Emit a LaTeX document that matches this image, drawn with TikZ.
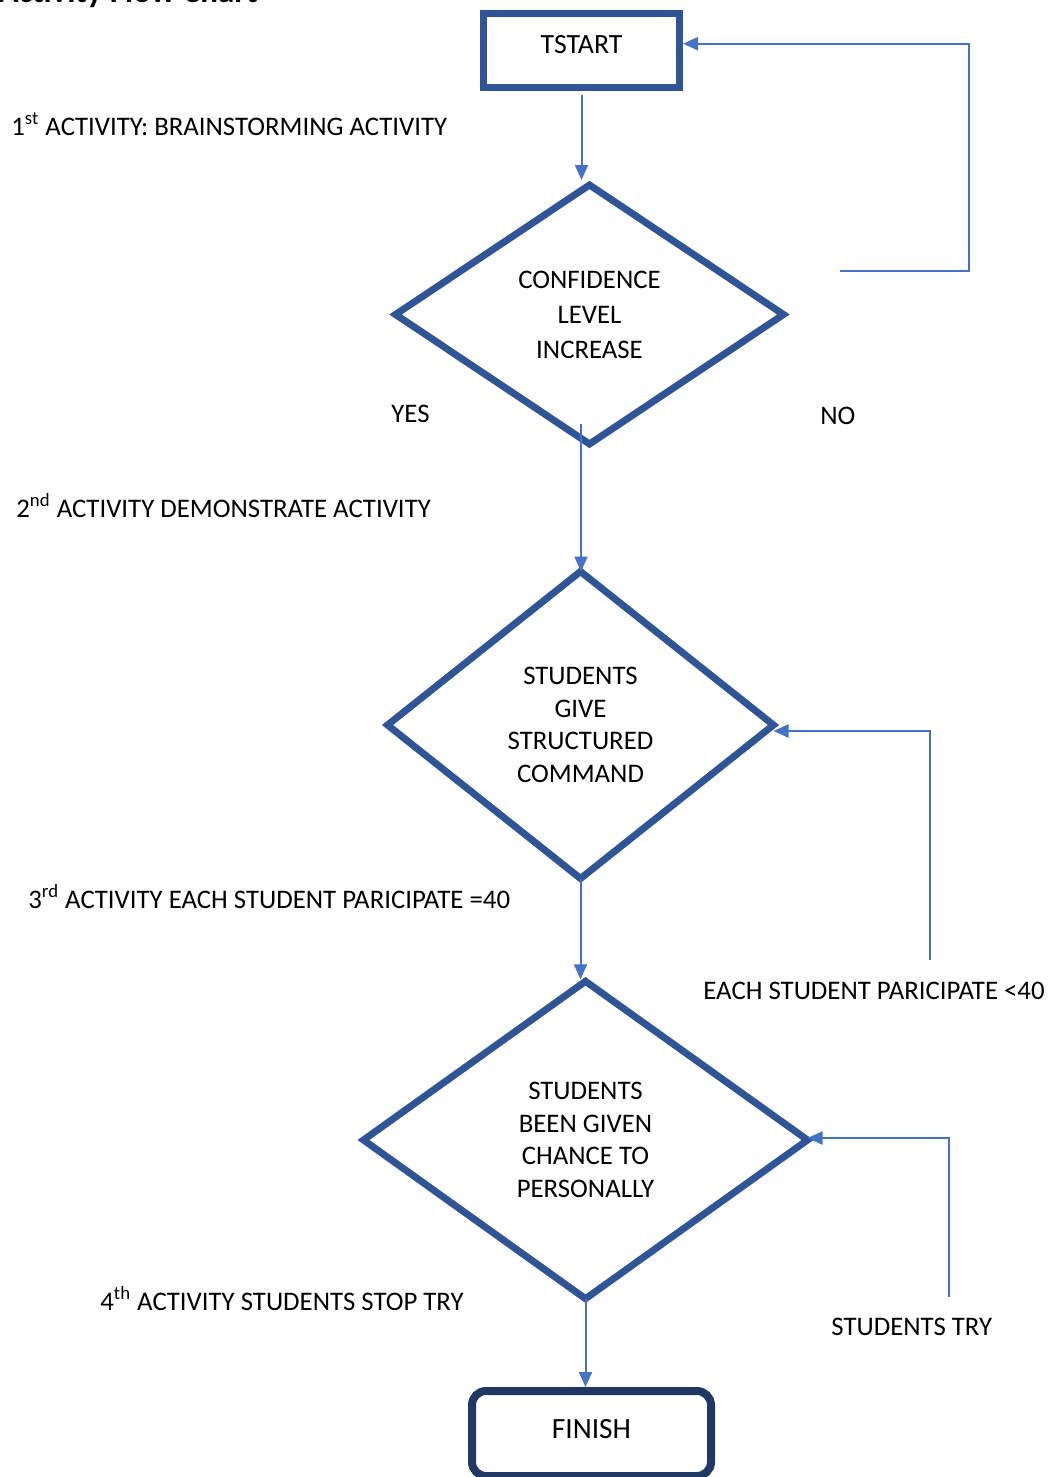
\documentclass[tikz,border=0pt]{standalone}
\usepackage{fontspec}
\setmainfont{Carlito}
\usetikzlibrary{shapes.geometric,arrows.meta}

\definecolor{boxblue}{HTML}{2F5597}
\definecolor{lineblue}{HTML}{4472C4}
\definecolor{navyblue}{HTML}{203864}

\tikzset{
    startbox/.style={draw=boxblue, line width=3.5pt, outer sep=0pt, inner sep=0pt,
        minimum width=98pt, minimum height=37.25pt, text height=9pt, text depth=6pt,
        font=\fontsize{13.9}{16}\selectfont},
    decision/.style={diamond, draw=boxblue, line width=3.5pt, outer sep=0pt,
        inner sep=0pt, align=center},
    endbox/.style={draw=navyblue, line width=4pt, rounded corners=7pt, outer sep=0pt,
        inner sep=0pt, minimum width=119.5pt, minimum height=42.5pt,
        text height=9.5pt, text depth=4.5pt, font=\fontsize{14.7}{17}\selectfont},
    flow/.style={draw=lineblue, line width=1pt, -{Triangle[width=6.5pt,length=7.5pt]}},
    note/.style={anchor=base west, inner sep=0pt},
}

\begin{document}
\begin{tikzpicture}[x=0.5pt, y=-0.5pt, font=\fontsize{13.4}{16}\selectfont]
    \useasboundingbox (0,0) rectangle (1054,1477);

    % Title (cut by the top edge)
    \node[anchor=base east, inner sep=0pt, font=\bfseries\fontsize{16.5}{20}\selectfont]
        (title) at (258,3) {Activity Flow Chart};

    % Boxes and decisions
    \node[startbox] (tstart) at (581.5,50.75) {TSTART};
    \node[decision, minimum width=194pt, minimum height=129.5pt,
          font=\fontsize{13.4}{17.5}\selectfont] (conf) at (589.5,314.5)
        {CONFIDENCE\\LEVEL\\INCREASE};
    \node[decision, minimum width=193pt, minimum height=153.5pt,
          font=\fontsize{13.4}{16.25}\selectfont] (cmd) at (580.5,725)
        {STUDENTS\\GIVE\\STRUCTURED\\COMMAND};
    \node[decision, minimum width=222pt, minimum height=158.7pt,
          font=\fontsize{13.4}{16.25}\selectfont] (chance) at (585.5,1140)
        {STUDENTS\\BEEN GIVEN\\CHANCE TO\\PERSONALLY};
    \node[endbox] (finish) at (591.5,1433.5) {FINISH};

    % Labels
    \node[note] (act1) at (11,135) {1\textsuperscript{st} ACTIVITY: BRAINSTORMING ACTIVITY};
    \node[note] (yes) at (391,422) {YES};
    \node[note] (no) at (820,424) {NO};
    \node[note] (act2) at (16,517) {2\textsuperscript{nd} ACTIVITY DEMONSTRATE ACTIVITY};
    \node[note] (act3) at (28,908) {3\textsuperscript{rd} ACTIVITY EACH STUDENT PARICIPATE =40};
    \node[note] (lessforty) at (703,999) {EACH STUDENT PARICIPATE <40};
    \node[note] (act4) at (100,1310) {4\textsuperscript{th} ACTIVITY STUDENTS STOP TRY};
    \node[note] (studtry) at (831,1335) {STUDENTS TRY};

    % Loose ends of the connectors
    \coordinate (nofrom) at (840,271);
    \coordinate (noturn) at (969,271);
    \coordinate (yesfrom) at (581,424);
    \coordinate (lessfrom) at (930,960);
    \coordinate (tryfrom) at (949,1297);

    % Main line
    \draw[flow, shorten <=3.5pt, shorten >=2.5pt] (tstart.south) -- (tstart.south |- conf.north);
    \draw[flow] (yesfrom) -- (yesfrom |- cmd.north);
    \draw[flow, shorten >=1pt] (cmd.south) -- (cmd.south |- chance.north);
    \draw[flow, shorten >=2pt] (chance.south) -- (chance.south |- finish.north);

    % Loops back
    \draw[flow, shorten >=1.75pt] (nofrom) -- (noturn) |- ([yshift=3.5pt]tstart.east);
    \draw[flow] (lessfrom) |- ([yshift=-3pt]cmd.east);
    \draw[flow] (tryfrom) |- ([yshift=1pt]chance.east);
\end{tikzpicture}
\end{document}
